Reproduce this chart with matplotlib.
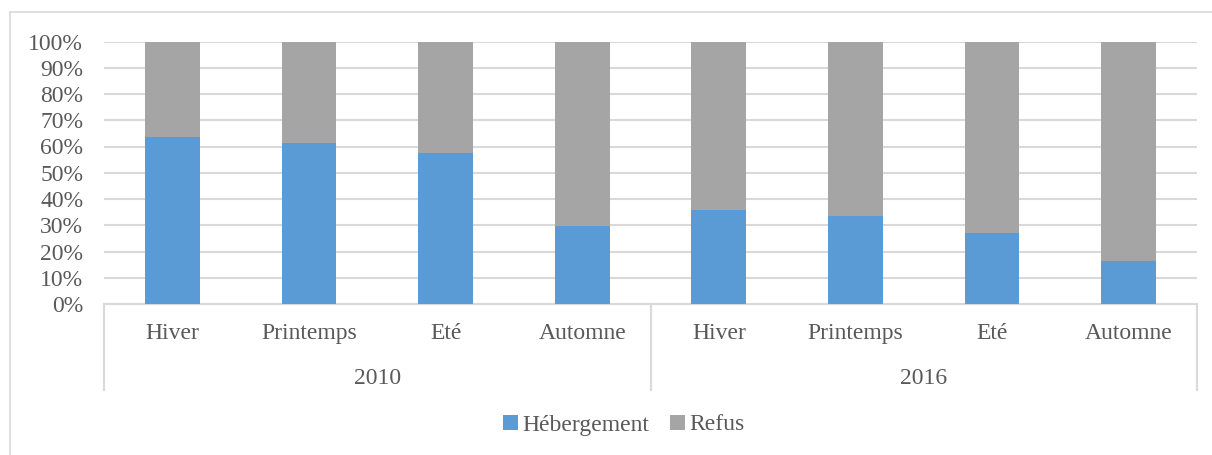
import matplotlib
matplotlib.use("Agg")
import matplotlib.pyplot as plt
from matplotlib.lines import Line2D
from matplotlib.ticker import PercentFormatter

years = ["2010", "2016"]
seasons = ["Hiver", "Printemps", "Eté", "Automne"]
hebergement = [63.5, 61.5, 57.4, 29.8, 35.9, 33.6, 27.2, 16.5]
refus = [100 - v for v in hebergement]

plt.rcParams['font.family'] = ['Liberation Serif', 'DejaVu Serif']
txt = '#595959'
fs = 17
W, H = 1212, 455
fig = plt.figure(figsize=(W / 100, H / 100), dpi=100)
# outer chart border (top and left visible)
fig.lines.append(Line2D([10 / W, 1.0], [1 - 12 / H, 1 - 12 / H], transform=fig.transFigure,
                        color='#d9d9d9', linewidth=1.2))
fig.lines.append(Line2D([10 / W, 10 / W], [0, 1 - 12 / H], transform=fig.transFigure,
                        color='#d9d9d9', linewidth=1.2))

x0, x1, ytop, ybot = 104, 1197, 41.5, 304
ax = fig.add_axes([x0 / W, (H - ybot) / H, (x1 - x0) / W, (ybot - ytop) / H])

labels = seasons * len(years)
xs = list(range(len(labels)))
ax.bar(xs, hebergement, width=0.4, color='#5b9bd5', label='Hébergement', zorder=3)
ax.bar(xs, refus, width=0.4, bottom=hebergement, color='#a5a5a5', label='Refus', zorder=3)

ax.set_xlim(-0.5, len(labels) - 0.5)
ax.set_ylim(0, 100)
ax.set_yticks(range(0, 101, 10))
ax.yaxis.set_major_formatter(PercentFormatter(decimals=0))
ax.grid(axis='y', color='#d9d9d9', linewidth=1.5, zorder=0)
for s in ['top', 'right', 'left']:
    ax.spines[s].set_visible(False)
ax.spines['bottom'].set_color('#d9d9d9')
ax.spines['bottom'].set_linewidth(1.5)
ax.tick_params(axis='y', length=0, pad=15, labelsize=fs, labelcolor=txt)
ax.tick_params(axis='x', length=0, pad=14, labelsize=fs, labelcolor=txt)
ax.set_xticks(xs)
ax.set_xticklabels(labels)

ph = ybot - ytop
trans = ax.get_xaxis_transform()
sep_bottom = -(390 - ybot) / ph
for xv in [-0.5, 3.5, 7.5]:
    ax.plot([xv, xv], [0, sep_bottom], transform=trans, color='#d9d9d9',
            linewidth=1.5, clip_on=False)
for i, yr in enumerate(years):
    ax.text(i * 4 + 1.5, -(379 - ybot) / ph, yr, transform=trans, ha='center',
            va='center', fontsize=fs, color=txt)

leg = fig.legend(loc='center', bbox_to_anchor=(624 / W, 1 - 425 / H), ncol=2,
                 frameon=False, fontsize=fs, handlelength=0.6, handleheight=0.6,
                 handletextpad=0.2, columnspacing=0.9)
for t in leg.get_texts():
    t.set_color(txt)

fig.savefig('out.png', dpi=100)
